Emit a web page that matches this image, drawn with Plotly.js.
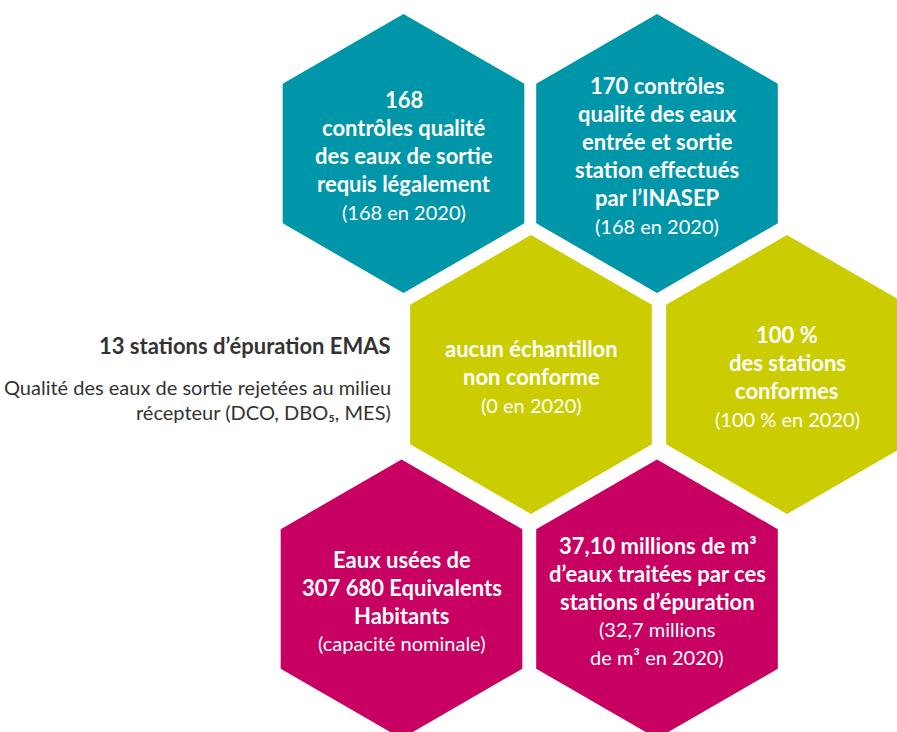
<!DOCTYPE html>
<html>
<head>
<meta charset="utf-8">
<script src="https://cdn.plot.ly/plotly-3.0.1.min.js"></script>
<style>html,body{margin:0;padding:0;background:#fff;}#chart{width:897px;height:732px;}</style>
</head>
<body>
<div id="chart"></div>
<script>
// ---- content (data) ----
const boldLines = [
  ["168", "contrôles qualité", "des eaux de sortie", "requis légalement"],
  ["170 contrôles", "qualité des eaux", "entrée et sortie", "station effectués", "par l’INASEP"],
  ["aucun échantillon", "non conforme"],
  ["100 %", "des stations", "conformes"],
  ["Eaux usées de", "307 680 Equivalents", "Habitants"],
  ["37,10 millions de m³", "d’eaux traitées par ces", "stations d’épuration"]
];
const noteLines = [
  ["(168 en 2020)"],
  ["(168 en 2020)"],
  ["(0 en 2020)"],
  ["(100 % en 2020)"],
  ["(capacité nominale)"],
  ["(32,7 millions", "de m³ en 2020)"]
];
const groups = ["contrôles", "contrôles", "conformité", "conformité", "volumes", "volumes"];
const sideTitle = "13 stations d’épuration EMAS";
const sideText = ["Qualité des eaux de sortie rejetées au milieu", "récepteur (DCO, DBO₅, MES)"];

// ---- layout / style (not data) ----
const W = 897, H = 732;
const centers = [[403.5, 153.5], [657, 153.5], [531, 374.5], [787, 374.5], [401.5, 599], [657, 599]];
const R = 139.5;
const groupColor = {"contrôles": "#0096AA", "conformité": "#CBCD00", "volumes": "#C70061"};
const FONT = "Lato, 'Open Sans', sans-serif";
const LINE = 28;

const traces = [];
const annotations = [];

centers.forEach((c, i) => {
  const xs = [], ys = [];
  for (let k = 0; k <= 6; k++) {
    const a = (-90 + 60 * k) * Math.PI / 180;
    xs.push(c[0] + R * Math.cos(a));
    ys.push(c[1] + R * Math.sin(a));
  }
  traces.push({
    type: "scatter", mode: "lines", x: xs, y: ys, fill: "toself",
    fillcolor: groupColor[groups[i]], line: {width: 0, color: groupColor[groups[i]]},
    hoverinfo: "skip", showlegend: false
  });
  const lines = boldLines[i].map(t => ({t: t, b: true})).concat(noteLines[i].map(t => ({t: t, b: false})));
  const n = lines.length;
  lines.forEach((ln, j) => {
    annotations.push({
      xref: "x", yref: "y", x: c[0], y: c[1] + 2 + (j - (n - 1) / 2) * LINE,
      text: ln.b ? "<b>" + ln.t + "</b>" : ln.t,
      showarrow: false, xanchor: "center", yanchor: "middle",
      font: {family: FONT, size: ln.b ? 22 : 20, color: "#ffffff"}
    });
  });
});

annotations.push({
  xref: "x", yref: "y", x: 393, y: 345, text: "<b>" + sideTitle + "</b>",
  showarrow: false, xanchor: "right", yanchor: "middle",
  font: {family: FONT, size: 22, color: "#333333"}
});
sideText.forEach((t, j) => {
  annotations.push({
    xref: "x", yref: "y", x: 393, y: 387 + j * 25, text: t,
    showarrow: false, xanchor: "right", yanchor: "middle",
    font: {family: FONT, size: 20, color: "#333333"}
  });
});

const layout = {
  width: W, height: H,
  margin: {l: 0, r: 0, t: 0, b: 0},
  paper_bgcolor: "#ffffff", plot_bgcolor: "#ffffff",
  xaxis: {range: [0, W], visible: false, fixedrange: true},
  yaxis: {range: [H, 0], visible: false, fixedrange: true},
  annotations: annotations,
  showlegend: false
};

Plotly.newPlot("chart", traces, layout, {displayModeBar: false, staticPlot: true});
</script>
</body>
</html>
